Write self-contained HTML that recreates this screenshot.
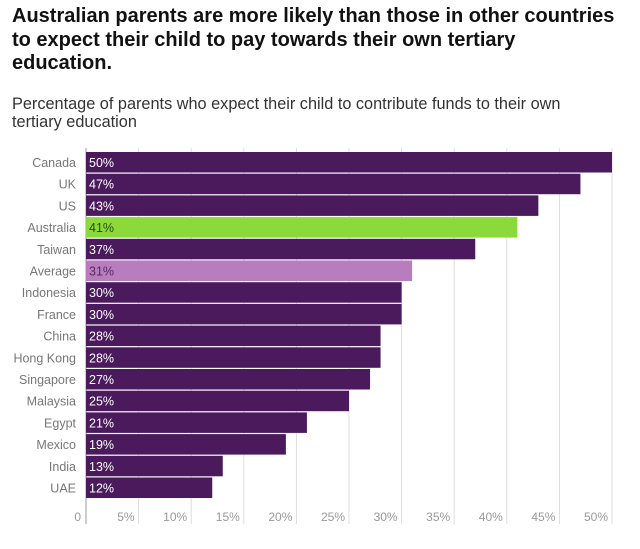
<!DOCTYPE html>
<html><head><meta charset="utf-8"><style>
body{margin:0;background:#fff;font-family:"Liberation Sans",sans-serif;}
#t{position:absolute;left:12px;top:5px;font-size:20px;font-weight:bold;color:#111;line-height:23.5px;width:630px;white-space:nowrap;}
#s{position:absolute;left:12px;top:95px;font-size:16.3px;color:#333;line-height:18px;width:590px;}
</style></head><body>
<div id="t">Australian parents are more likely than those in other countries<br>to expect their child to pay towards their own tertiary<br>education.</div>
<div id="s">Percentage of parents who expect their child to contribute funds to their own<br>tertiary education</div>
<svg id="c" width="640" height="549" style="position:absolute;left:0;top:0"></svg>
<script>
const categories=["Canada","UK","US","Australia","Taiwan","Average","Indonesia","France","China","Hong Kong","Singapore","Malaysia","Egypt","Mexico","India","UAE"];
const values=[50,47,43,41,37,31,30,30,28,28,27,25,21,19,13,12];
const ticks=[0,5,10,15,20,25,30,35,40,45,50];
const tickLabels=["0","5%","10%","15%","20%","25%","30%","35%","40%","45%","50%"];
const svg=document.getElementById('c');const NS='http://www.w3.org/2000/svg';
const x=v=>86+v*10.52;const y=i=>152+i*21.7;
function mk(t,a,p){const e=document.createElementNS(NS,t);for(const k in a)e.setAttribute(k,a[k]);(p||svg).appendChild(e);return e;}
ticks.forEach((t,i)=>{
 const g=mk('line',{x1:x(t),x2:x(t),y1:148,y2:524,stroke:i?'#ddd':'#999','stroke-width':1});
 
 
 const tx=mk('text',{x:i?x(t)-4:x(t)-5,y:521,'text-anchor':'end','font-size':12,fill:'#999'});
 tx.textContent=tickLabels[i];
 
 
});
categories.forEach((c,i)=>{
 const col=c==="Australia"?'#8cd93c':c==="Average"?'#b77dbd':'#4a1a5c';
 const r=mk('rect',{x:x(0),y:y(i),width:x(values[i])-x(0),height:20.5,fill:col});
 
 
 const l=mk('text',{x:76,y:y(i)+15,'text-anchor':'end','font-size':12.5,fill:'#777'});
 l.textContent=c;
 
 
 const v=mk('text',{x:x(0)+3,y:y(i)+15,'font-size':12.5,fill:c==="Australia"?'#2a4a10':c==="Average"?'#5a2a60':'#fff'});
 v.textContent=values[i]+'%';
 
 
});
</script>
</body></html>
